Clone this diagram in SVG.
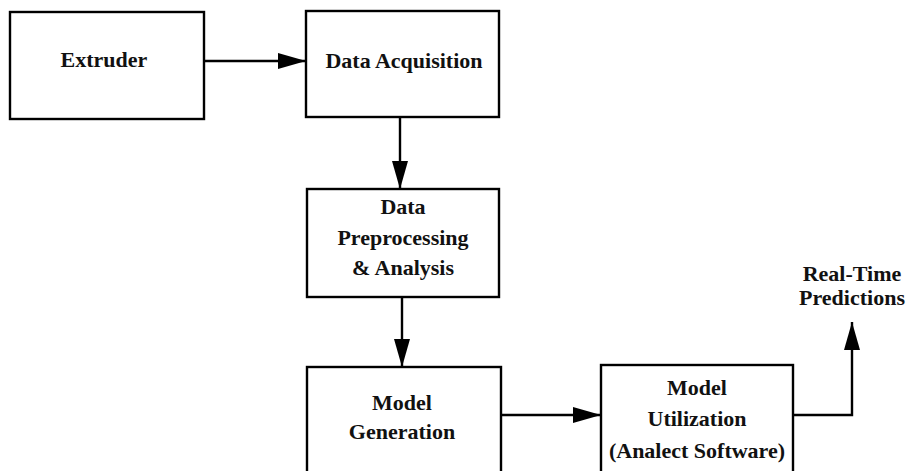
<svg xmlns="http://www.w3.org/2000/svg" width="906" height="471" viewBox="0 0 906 471">
<style>
.box{fill:#fff;stroke:#000;stroke-width:2.4}
.t{font-family:"Liberation Serif","Times New Roman",serif;font-weight:bold;font-size:22px;text-anchor:middle;fill:#111}
.c{fill:none;stroke:#000;stroke-width:2.4}
</style>
<defs>
<marker id="ah" viewBox="0 0 28 16" refX="28" refY="8" markerWidth="28" markerHeight="16" markerUnits="userSpaceOnUse" orient="auto">
<path d="M0,0 L28,8 L0,16 Z" fill="#000"/>
</marker>
</defs>
<rect width="906" height="471" fill="#fff"/>
<g id="connectors">
<path class="c" d="M204,61 H306" marker-end="url(#ah)"/>
<path class="c" d="M400,117 V189" marker-end="url(#ah)"/>
<path class="c" d="M402,297 V367" marker-end="url(#ah)"/>
<path class="c" d="M501,415 H601" marker-end="url(#ah)"/>
<path class="c" d="M793,415 H852 V322" marker-end="url(#ah)"/>
</g>
<g id="extruder">
<rect class="box" x="10" y="12" width="194" height="107"/>
<text class="t" x="104" y="67">Extruder</text>
</g>
<g id="data-acquisition">
<rect class="box" x="306" y="11" width="193" height="106"/>
<text class="t" x="404" y="68">Data Acquisition</text>
</g>
<g id="data-preprocessing">
<rect class="box" x="307" y="189" width="192" height="108"/>
<text class="t" x="403" y="214">Data</text>
<text class="t" x="403" y="245">Preprocessing</text>
<text class="t" x="403" y="275">&amp; Analysis</text>
</g>
<g id="model-generation">
<rect class="box" x="307" y="367" width="194" height="120"/>
<text class="t" x="402" y="410">Model</text>
<text class="t" x="402" y="439">Generation</text>
</g>
<g id="model-utilization">
<rect class="box" x="601" y="365" width="192" height="122"/>
<text class="t" x="697" y="395">Model</text>
<text class="t" x="697" y="426">Utilization</text>
<text class="t" x="697" y="458">(Analect Software)</text>
</g>
<g id="real-time-predictions">
<text class="t" x="852" y="281">Real-Time</text>
<text class="t" x="852" y="305">Predictions</text>
</g>
</svg>
